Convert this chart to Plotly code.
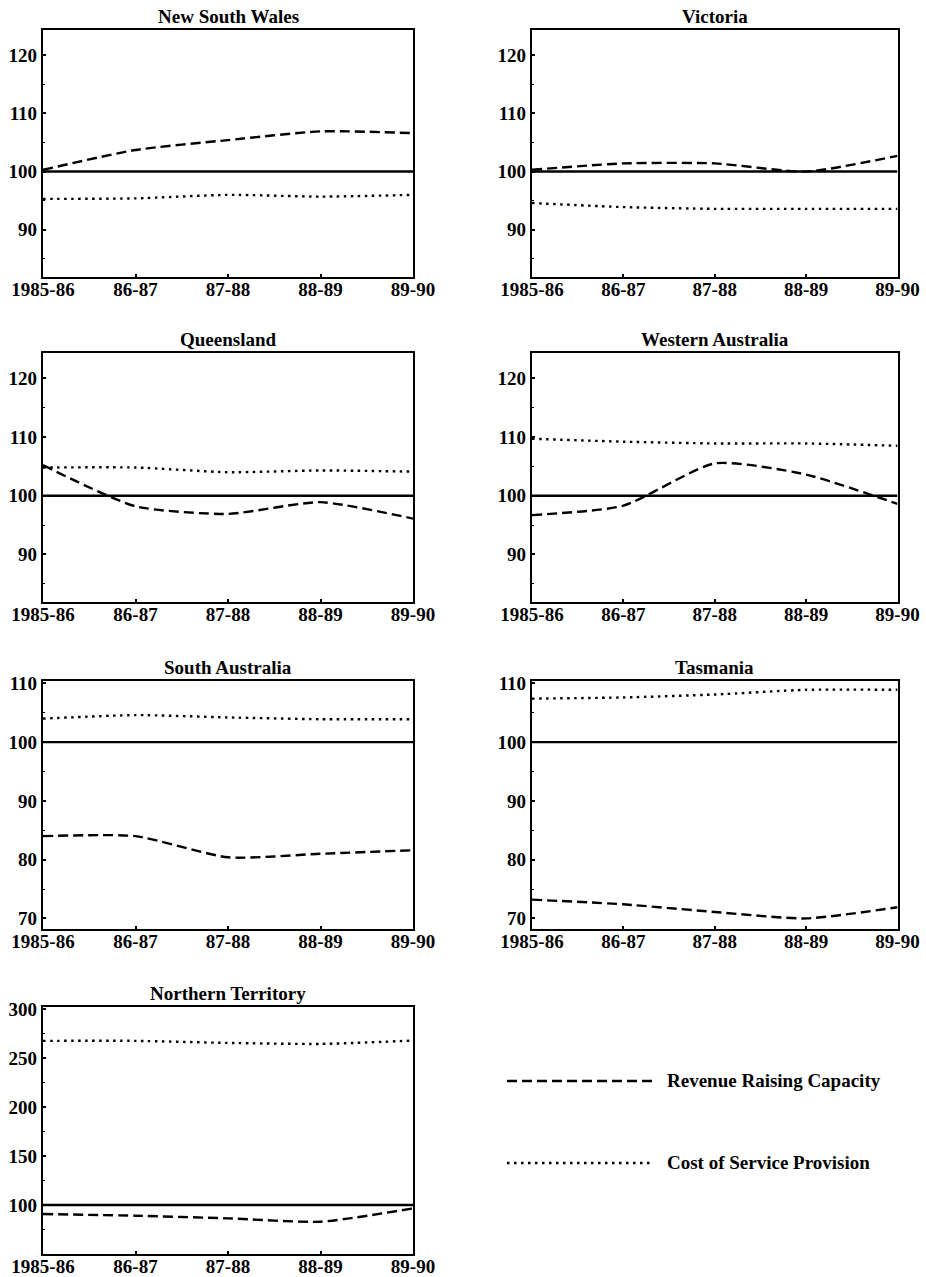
import plotly.graph_objects as go

YEARS = ["1985-86", "86-87", "87-88", "88-89", "89-90"]

STATES = ["New South Wales", "Victoria", "Queensland", "Western Australia",
          "South Australia", "Tasmania", "Northern Territory"]

NSW_REV = [100.3, 103.7, 105.4, 106.9, 106.6]
NSW_COST = [95.3, 95.4, 96.0, 95.7, 96.0]
VIC_REV = [100.3, 101.4, 101.4, 100.0, 102.7]
VIC_COST = [94.6, 93.9, 93.6, 93.6, 93.6]
QLD_REV = [105.2, 98.2, 96.9, 98.9, 96.1]
QLD_COST = [104.8, 104.8, 104.0, 104.3, 104.1]
WA_REV = [96.7, 98.3, 105.5, 103.6, 98.6]
WA_COST = [109.7, 109.2, 108.9, 108.9, 108.5]
SA_REV = [84.0, 84.0, 80.4, 81.0, 81.6]
SA_COST = [104.0, 104.6, 104.2, 103.9, 103.9]
TAS_REV = [73.2, 72.4, 71.1, 70.0, 71.9]
TAS_COST = [107.4, 107.6, 108.1, 108.9, 108.9]
NT_REV = [90.8, 89.1, 86.4, 83.0, 96.6]
NT_COST = [267.7, 267.7, 265.6, 264.6, 268.0]

BASELINE = 100

REV = [NSW_REV, VIC_REV, QLD_REV, WA_REV, SA_REV, TAS_REV, NT_REV]
COST = [NSW_COST, VIC_COST, QLD_COST, WA_COST, SA_COST, TAS_COST, NT_COST]

YTICKS_A = [90, 100, 110, 120]
YTICKS_B = [70, 80, 90, 100, 110]
YTICKS_NT = [100, 150, 200, 250, 300]
YTICKS = [YTICKS_A, YTICKS_A, YTICKS_A, YTICKS_A, YTICKS_B, YTICKS_B, YTICKS_NT]

LEGEND_LABELS = ["Revenue Raising Capacity", "Cost of Service Provision"]

W, H = 926, 1277
FONT = "Liberation Serif"
COLS = [(43, 413), (532, 897.5)]
ROWS = [(30, 277), (353, 602), (681, 929), (1007, 1254)]
YRANGES = [[81.9, 124.3], [81.9, 124.3], [81.9, 124.3], [81.9, 124.3],
           [68.2, 110.4], [68.2, 110.4], [50, 302.3]]
MINOR = [5, 5, 5, 5, 5, 5, 25]

REV_DASH = "10px,5px"
COST_DASH = "2.5px,4.5px"
SMOOTH = 0.6

fig = go.Figure()
layout = dict(width=W, height=H, margin=dict(l=0, r=0, t=0, b=0),
              paper_bgcolor="white", plot_bgcolor="white", showlegend=False,
              font=dict(family=FONT, color="black"))
annotations = []
shapes = []

for i, name in enumerate(STATES):
    r, c = divmod(i, 2)
    xl, xr = COLS[c]
    yt, yb = ROWS[r]
    ax = "" if i == 0 else str(i + 1)
    xa, ya = "x" + ax, "y" + ax
    fig.add_trace(go.Scatter(x=YEARS, y=[BASELINE] * len(YEARS), xaxis=xa, yaxis=ya,
                             mode="lines", line=dict(color="black", width=2.4),
                             hoverinfo="skip"))
    fig.add_trace(go.Scatter(x=YEARS, y=COST[i], xaxis=xa, yaxis=ya, mode="lines",
                             line=dict(color="black", width=2.4, dash=COST_DASH,
                                       shape="spline", smoothing=SMOOTH),
                             name=LEGEND_LABELS[1]))
    fig.add_trace(go.Scatter(x=YEARS, y=REV[i], xaxis=xa, yaxis=ya, mode="lines",
                             line=dict(color="black", width=2.4, dash=REV_DASH,
                                       shape="spline", smoothing=SMOOTH),
                             name=LEGEND_LABELS[0]))
    layout["xaxis" + ax] = dict(
        domain=[xl / W, xr / W], anchor=ya, type="category", range=[0, 4],
        automargin=False,
        showline=True, linecolor="black", linewidth=2.2, mirror=True,
        ticks="inside", ticklen=3, tickwidth=1.5, tickcolor="black",
        showgrid=False, zeroline=False,
        tickfont=dict(family=FONT, size=19, color="black", weight="bold"),
        ticklabelstandoff=-6)
    layout["yaxis" + ax] = dict(
        domain=[1 - yb / H, 1 - yt / H], anchor=xa, range=YRANGES[i],
        tickmode="array", tickvals=YTICKS[i], automargin=False,
        showline=True, linecolor="black", linewidth=2.2, mirror=True,
        ticks="inside", ticklen=3, tickwidth=1.5, tickcolor="black",
        minor=dict(dtick=MINOR[i], tick0=0, ticks="inside", ticklen=2,
                   tickcolor="black", tickwidth=1),
        showgrid=False, zeroline=False,
        tickfont=dict(family=FONT, size=19, color="black", weight="bold"),
        ticklabelstandoff=0)
    annotations.append(dict(text="<b>%s</b>" % name, x=(xl + xr) / 2 / W,
                            y=1 - yt / H, xref="paper", yref="paper",
                            xanchor="center", yanchor="bottom", yshift=1,
                            showarrow=False,
                            font=dict(family=FONT, size=19, color="black")))

# legend keys
for k, (ly, dash) in enumerate([(1081, REV_DASH), (1163, COST_DASH)]):
    shapes.append(dict(type="line", xref="paper", yref="paper",
                       x0=507 / W, x1=653 / W, y0=1 - ly / H, y1=1 - ly / H,
                       line=dict(color="black", width=2.4, dash=dash)))
    annotations.append(dict(text="<b>%s</b>" % LEGEND_LABELS[k], x=665 / W,
                            y=1 - (ly - 1) / H, xref="paper", yref="paper",
                            xanchor="left", yanchor="middle", showarrow=False,
                            font=dict(family=FONT, size=19, color="black")))

layout["annotations"] = annotations
layout["shapes"] = shapes
fig.update_layout(**layout)

fig.write_html("out.html", config={"displayModeBar": False})
with open("out.html", "r", encoding="utf-8") as f:
    html = f.read()
html = html.replace("<body>", '<body style="margin:0;overflow:hidden">', 1)
with open("out.html", "w", encoding="utf-8") as f:
    f.write(html)
